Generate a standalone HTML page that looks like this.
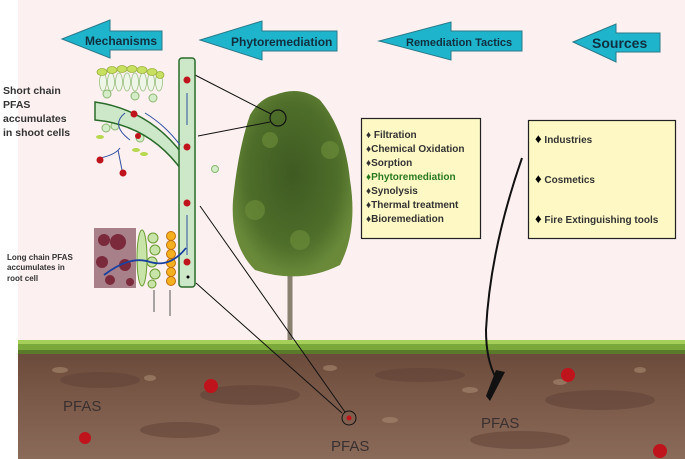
<!DOCTYPE html>
<html><head><style>
html,body{margin:0;padding:0;background:#fff}
svg{display:block}
text{font-family:"Liberation Sans",sans-serif}
</style></head><body>
<svg width="685" height="459" viewBox="0 0 685 459" xmlns="http://www.w3.org/2000/svg">
<defs>
<radialGradient id="tg" cx="50%" cy="45%" r="55%"><stop offset="0" stop-color="#3f5a22"/><stop offset="0.7" stop-color="#4e6e2a"/><stop offset="1" stop-color="#6a8a3a"/></radialGradient>
<linearGradient id="soil" x1="0" y1="0" x2="0" y2="1"><stop offset="0" stop-color="#6a4a3a"/><stop offset="0.4" stop-color="#7a5848"/><stop offset="1" stop-color="#8a6a58"/></linearGradient>
</defs>
<rect width="685" height="459" fill="#fcf0f0"/>
<rect x="0" y="0" width="18" height="459" fill="#fff"/>
<rect x="18" y="352" width="667" height="107" fill="url(#soil)"/>
<g fill="#5e4034" opacity="0.5">
<ellipse cx="100" cy="380" rx="40" ry="8"/><ellipse cx="250" cy="395" rx="50" ry="10"/><ellipse cx="420" cy="375" rx="45" ry="7"/><ellipse cx="600" cy="400" rx="55" ry="10"/><ellipse cx="180" cy="430" rx="40" ry="8"/><ellipse cx="520" cy="440" rx="50" ry="9"/>
</g>
<g fill="#a88a70" opacity="0.6">
<ellipse cx="60" cy="370" rx="8" ry="3"/><ellipse cx="150" cy="378" rx="6" ry="3"/><ellipse cx="330" cy="368" rx="7" ry="3"/><ellipse cx="470" cy="390" rx="8" ry="3"/><ellipse cx="560" cy="382" rx="7" ry="3"/><ellipse cx="640" cy="370" rx="6" ry="3"/><ellipse cx="390" cy="420" rx="8" ry="3"/>
</g>
<rect x="18" y="340" width="667" height="14" fill="#7aa83a"/>
<rect x="18" y="340" width="667" height="4" fill="#a6cf5a"/>
<rect x="18" y="350" width="667" height="4" fill="#5a7a2a"/>
<g fill="#1eb4cc" stroke="#2a7a8a" stroke-width="1">
<polygon points="62,39 110,20 110,31 162,31 162,50 110,50 110,58"/>
<polygon points="200,40 262,21 262,31 337,31 337,51 262,51 262,60"/>
<polygon points="379,41 451,22 451,31 522,31 522,51 451,51 451,60"/>
<polygon points="573,42 616,24 616,33 660,33 660,52 616,52 616,62"/>
</g>
<g fill="#103040" font-weight="bold">
<text x="85" y="45" font-size="12">Mechanisms</text>
<text x="231" y="46" font-size="12">Phytoremediation</text>
<text x="406" y="46" font-size="11">Remediation Tactics</text>
<text x="592" y="48" font-size="14">Sources</text>
</g>
<line x1="290" y1="260" x2="290" y2="340" stroke="#8a8070" stroke-width="5"/>
<path d="M290 270 L283 250 M290 270 L298 248" stroke="#8a8070" stroke-width="3" fill="none"/>
<path d="M275 95 Q300 85 320 100 Q345 130 350 180 Q358 230 340 265 Q300 285 255 270 Q230 245 233 200 Q238 150 250 115 Q260 98 275 95Z" fill="url(#tg)"/>
<g fill="#6f8f3a" opacity="0.6"><circle cx="255" cy="210" r="10"/><circle cx="330" cy="150" r="9"/><circle cx="300" cy="240" r="10"/><circle cx="270" cy="140" r="8"/></g>
<circle cx="278" cy="118" r="8" fill="none" stroke="#111" stroke-width="1.2"/>
<g stroke="#111" stroke-width="1" fill="none">
<line x1="195" y1="75" x2="271" y2="114"/>
<line x1="198" y1="136" x2="270" y2="122"/>
<line x1="200" y1="206" x2="345" y2="412"/>
<line x1="196" y1="283" x2="342" y2="413"/>
<circle cx="349" cy="418" r="7"/>
</g>
<circle cx="349" cy="418" r="2.5" fill="#c0141c"/>
<path d="M522 158 Q490 250 486 330 Q486 360 496 378" stroke="#111" stroke-width="2" fill="none"/>
<polygon points="496,370 505,372 490,401 486,396" fill="#111"/>
<rect x="361.5" y="118.5" width="119" height="120" fill="#fdf8c4" stroke="#222" stroke-width="1.2"/>
<g font-size="10" font-weight="bold" fill="#333">
<text x="366" y="138">♦ Filtration</text>
<text x="366" y="152">♦Chemical Oxidation</text>
<text x="366" y="166">♦Sorption</text>
<text x="366" y="180" fill="#2a7a20">♦Phytoremediation</text>
<text x="366" y="194">♦Synolysis</text>
<text x="366" y="208">♦Thermal treatment</text>
<text x="366" y="222">♦Bioremediation</text>
</g>
<rect x="528.5" y="120.5" width="147" height="118" fill="#fdf8c4" stroke="#222" stroke-width="1.2"/>
<g font-size="10" font-weight="bold" fill="#333">
<text x="535" y="143"><tspan font-size="13" fill="#000">♦</tspan> Industries</text>
<text x="535" y="183"><tspan font-size="13" fill="#000">♦</tspan> Cosmetics</text>
<text x="535" y="223"><tspan font-size="13" fill="#000">♦</tspan> Fire Extinguishing tools</text>
</g>
<g fill="#eef6e8" stroke="#9ac080" stroke-width="0.8">
<ellipse cx="103" cy="82" rx="3.5" ry="9"/><ellipse cx="111" cy="82" rx="3.5" ry="9"/><ellipse cx="119" cy="82" rx="3.5" ry="9"/><ellipse cx="127" cy="82" rx="3.5" ry="9"/><ellipse cx="135" cy="82" rx="3.5" ry="9"/><ellipse cx="143" cy="82" rx="3.5" ry="9"/><ellipse cx="151" cy="82" rx="3.5" ry="9"/><ellipse cx="159" cy="82" rx="3.5" ry="9"/>
</g>
<g fill="#c8e060" stroke="#9ab040" stroke-width="0.8">
<ellipse cx="102" cy="72" rx="5" ry="3.5"/><ellipse cx="112" cy="70" rx="5" ry="3.5"/><ellipse cx="122" cy="69" rx="5" ry="3.5"/><ellipse cx="132" cy="69" rx="5" ry="3.5"/><ellipse cx="142" cy="70" rx="5" ry="3.5"/><ellipse cx="152" cy="72" rx="5" ry="3.5"/><ellipse cx="160" cy="75" rx="4" ry="3.5"/>
</g>
<g fill="#d4ecc8" stroke="#8ab870" stroke-width="1">
<circle cx="107" cy="94" r="4"/><circle cx="135" cy="96" r="4"/><circle cx="153" cy="98" r="4"/><circle cx="106" cy="128" r="4"/><circle cx="115" cy="126" r="4"/><circle cx="140" cy="138" r="4"/><circle cx="215" cy="169" r="3.5"/>
</g>
<g fill="#b8d850"><ellipse cx="100" cy="137" rx="4" ry="2"/><ellipse cx="136" cy="150" rx="4" ry="2"/><ellipse cx="144" cy="154" rx="4" ry="2"/></g>
<path d="M95 102 Q150 110 183 155 L183 172 Q150 125 95 120Z" fill="#cde8c8" stroke="#2a6a2a" stroke-width="1.5"/>
<rect x="179" y="58" width="16" height="229" rx="3" fill="#cde8c8" stroke="#2a6a2a" stroke-width="1.5"/>
<g stroke="#3050a0" stroke-width="1" fill="none">
<line x1="187" y1="93" x2="187" y2="125"/><line x1="187" y1="215" x2="187" y2="255"/>
<path d="M145 113 Q165 125 180 145"/><path d="M125 113 Q110 125 130 140"/>
<path d="M100 158 Q115 155 120 148"/><path d="M118 150 Q120 160 122 170"/>
</g>
<g fill="#c0141c">
<circle cx="187" cy="80" r="3.5"/><circle cx="187" cy="147" r="3.5"/><circle cx="187" cy="203" r="3.5"/><circle cx="187" cy="262" r="3.5"/>
<circle cx="134" cy="114" r="3.5"/><circle cx="138" cy="136" r="3"/><circle cx="100" cy="160" r="3.5"/><circle cx="123" cy="173" r="3.5"/>
<circle cx="211" cy="386" r="7"/><circle cx="85" cy="438" r="6"/><circle cx="568" cy="375" r="7"/><circle cx="660" cy="451" r="7"/>
</g>
<circle cx="188" cy="277" r="1.5" fill="#000"/>
<rect x="94" y="228" width="42" height="60" fill="#a8808a"/>
<g fill="#7a2a3a"><circle cx="104" cy="240" r="6"/><circle cx="118" cy="242" r="8"/><circle cx="102" cy="262" r="6"/><circle cx="125" cy="265" r="6"/><circle cx="110" cy="280" r="5"/><circle cx="130" cy="282" r="4"/></g>
<g fill="#c8e4a8" stroke="#6a9a30" stroke-width="1">
<ellipse cx="142" cy="258" rx="5" ry="28"/><circle cx="153" cy="238" r="5"/><circle cx="155" cy="250" r="5"/><circle cx="152" cy="262" r="5"/><circle cx="155" cy="274" r="5"/><circle cx="152" cy="284" r="4"/>
</g>
<g fill="#f5b020" stroke="#c07010" stroke-width="1">
<circle cx="171" cy="236" r="4.5"/><circle cx="171" cy="245" r="4.5"/><circle cx="171" cy="254" r="4.5"/><circle cx="171" cy="263" r="4.5"/><circle cx="171" cy="272" r="4.5"/><circle cx="171" cy="281" r="4.5"/>
</g>
<path d="M104 275 Q130 255 150 262 Q170 268 186 248" stroke="#1a40a0" stroke-width="1.8" fill="none"/>
<line x1="154" y1="290" x2="154" y2="312" stroke="#555"/><line x1="170" y1="290" x2="170" y2="316" stroke="#555"/>
<g font-weight="bold" fill="#333">
<text x="3" y="94" font-size="10.5">Short chain</text>
<text x="3" y="108" font-size="10.5">PFAS</text>
<text x="3" y="122" font-size="10.5">accumulates</text>
<text x="3" y="136" font-size="10.5">in shoot cells</text>
<text x="7" y="260" font-size="8">Long chain PFAS</text>
<text x="7" y="270" font-size="8">accumulates in</text>
<text x="7" y="281" font-size="8">root cell</text>
</g>
<g fill="#3a3030" font-size="15">
<text x="63" y="411">PFAS</text>
<text x="331" y="451">PFAS</text>
<text x="481" y="428">PFAS</text>
</g>
</svg>
</body></html>
